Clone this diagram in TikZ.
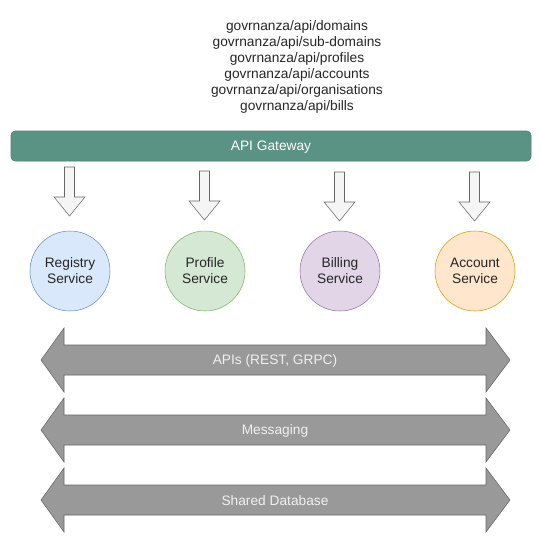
\documentclass[tikz,border=0pt]{standalone}
\usepackage{fontspec}
\setmainfont{Liberation Sans}
\usepackage{xcolor}
\usepackage{tikz}
\usetikzlibrary{shapes,arrows}

\definecolor{gwfill}{HTML}{5A9283}
\definecolor{gwline}{HTML}{4F7F73}
\definecolor{regfill}{HTML}{DAE8FC}
\definecolor{regline}{HTML}{6C8EBF}
\definecolor{proffill}{HTML}{D5E8D4}
\definecolor{profline}{HTML}{82B366}
\definecolor{billfill}{HTML}{E1D5E7}
\definecolor{billline}{HTML}{9673A6}
\definecolor{accfill}{HTML}{FFE6CC}
\definecolor{accline}{HTML}{D79B00}

\begin{document}
\begin{tikzpicture}[x=0.75pt,y=-0.75pt,
  font=\fontsize{10.3pt}{12pt}\selectfont,
  svc/.style={circle,draw,minimum size=60pt,inner sep=0pt,align=center,text=black!85},
  downarrow/.style={draw=black!60,fill=black!4,line join=miter},
  busarrow/.style={draw=black!60,fill=black!40,line join=miter},
  buslabel/.style={text=white!94!black}]

\useasboundingbox (0,0) rectangle (541,544);

\node [align=center,text=black!85] (v1) at (297,67) {govrnanza/api/domains\\govrnanza/api/sub-domains\\govrnanza/api/profiles\\govrnanza/api/accounts\\govrnanza/api/organisations\\govrnanza/api/bills};

\draw [draw=gwline,fill=gwfill,rounded corners=3pt] (11,131) rectangle (531,161);
\node [text=white] (v2) at (271,147) {API Gateway};

% gateway to services
\draw [downarrow] (64.5,167) -- (74.5,167) -- (74.5,197) -- (85,197) -- (69.5,216) -- (54,197) -- (64.5,197) -- cycle;
\draw [downarrow] (199.5,171) -- (209.5,171) -- (209.5,201) -- (220,201) -- (204.5,220) -- (189,201) -- (199.5,201) -- cycle;
\draw [downarrow] (334.5,172) -- (344.5,172) -- (344.5,202) -- (355,202) -- (339.5,221) -- (324,202) -- (334.5,202) -- cycle;
\draw [downarrow] (469.5,172) -- (479.5,172) -- (479.5,202) -- (490,202) -- (474.5,221) -- (459,202) -- (469.5,202) -- cycle;

\node [svc,draw=regline,fill=regfill] (v3) at (70,271) {Registry\\Service};
\node [svc,draw=profline,fill=proffill] (v4) at (205,271) {Profile\\Service};
\node [svc,draw=billline,fill=billfill] (v5) at (340,271) {Billing\\Service};
\node [svc,draw=accline,fill=accfill] (v6) at (475,271) {Account\\Service};

% shared layers
\draw [busarrow] (41,360) -- (64,328) -- (64,345) -- (486,345) -- (486,328) -- (510,360) -- (486,392) -- (486,375) -- (64,375) -- (64,392) -- cycle;
\node [buslabel] (v7) at (275,361) {APIs (REST, GRPC)};
\draw [busarrow] (41,430) -- (64,398) -- (64,415) -- (486,415) -- (486,398) -- (510,430) -- (486,462) -- (486,445) -- (64,445) -- (64,462) -- cycle;
\node [buslabel] (v8) at (275,431) {Messaging};
\draw [busarrow] (41,500) -- (64,468) -- (64,485) -- (486,485) -- (486,468) -- (510,500) -- (486,532) -- (486,515) -- (64,515) -- (64,532) -- cycle;
\node [buslabel] (v9) at (275,501) {Shared Database};

\end{tikzpicture}
\end{document}
